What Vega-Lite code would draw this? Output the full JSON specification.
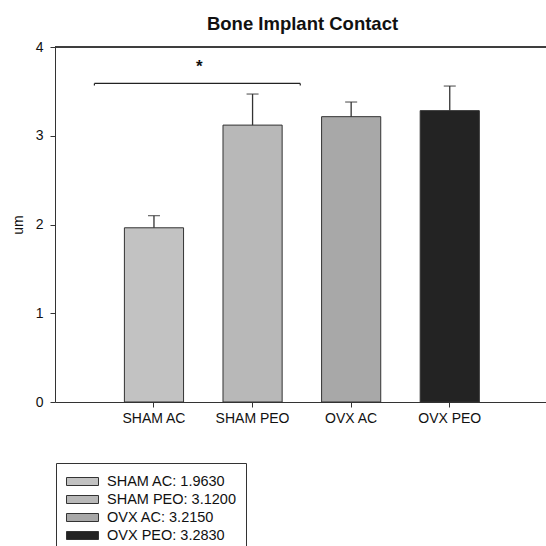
{
  "$schema": "https://vega.github.io/schema/vega-lite/v6.json",
  "width": 491,
  "height": 355,
  "autosize": {"type": "none"},
  "padding": {"left": 55, "top": 47, "right": 0, "bottom": 144},
  "background": "white",
  "config": {
    "font": "Liberation Sans",
    "view": {"stroke": null},
    "axis": {"grid": false, "domainColor": "#333", "tickColor": "#333", "labelColor": "#111", "titleColor": "#111", "labelFont": "Liberation Sans", "titleFont": "Liberation Sans"}
  },
  "title": {"text": "Bone Implant Contact", "fontSize": 18.5, "fontWeight": "bold", "font": "Liberation Sans", "color": "#111", "anchor": "middle", "baseline": "alphabetic", "offset": 18, "dx": 2, "dy": 26},
  "datasets": {
    "bars": [
      {"group": "SHAM AC", "legend": "SHAM AC: 1.9630", "mean": 1.963, "upper": 2.10},
      {"group": "SHAM PEO", "legend": "SHAM PEO: 3.1200", "mean": 3.12, "upper": 3.47},
      {"group": "OVX  AC", "legend": "OVX AC: 3.2150", "mean": 3.215, "upper": 3.38},
      {"group": "OVX  PEO", "legend": "OVX PEO: 3.2830", "mean": 3.283, "upper": 3.56}
    ],
    "bracket": [{"x1": 0.4, "x2": 2.49, "y": 3.59, "ye": 3.565, "label": "*", "sx": 1.465, "sy": 3.78}]
  },
  "layer": [
    {
      "data": {"name": "bars"},
      "layer": [
        {
          "mark": {"type": "bar", "stroke": "#333", "strokeWidth": 1},
          "encoding": {
            "x": {"field": "group", "type": "nominal", "sort": null,
                  "scale": {"domain": ["SHAM AC", "SHAM PEO", "OVX  AC", "OVX  PEO"], "paddingInner": 0.4, "paddingOuter": 0.69, "align": 0.51},
                  "axis": {"title": null, "labelAngle": 0, "labelFontSize": 14, "tickSize": 5, "labelPadding": 4, "domainWidth": 1}},
            "y": {"field": "mean", "type": "quantitative",
                  "scale": {"domain": [0, 4], "nice": false},
                  "axis": {"title": "um", "values": [0, 1, 2, 3, 4], "format": "d", "labelFontSize": 14, "titleFontSize": 14, "titleFontWeight": "normal", "tickSize": 5, "labelPadding": 7, "titlePadding": 10}},
            "fill": {"field": "legend", "type": "nominal", "sort": null,
                      "scale": {"domain": ["SHAM AC: 1.9630", "SHAM PEO: 3.1200", "OVX AC: 3.2150", "OVX PEO: 3.2830"], "range": ["#c2c2c2", "#b8b8b8", "#a8a8a8", "#232323"]},
                      "legend": {"title": null, "orient": "none", "legendX": 1, "legendY": 416, "strokeColor": "#333", "padding": 10,
                                 "symbolType": "M-1,-0.5H3V0.5H-1Z", "symbolSize": 256, "symbolStrokeColor": "#333", "symbolStrokeWidth": 1,
                                 "labelFontSize": 14.5, "labelFont": "Liberation Sans", "labelColor": "#111", "labelOffset": 24, "rowPadding": 3}}
          }
        },
        {
          "mark": {"type": "rule", "color": "#333", "strokeWidth": 1.3},
          "encoding": {
            "x": {"field": "group", "type": "nominal", "sort": null},
            "y": {"field": "mean", "type": "quantitative"},
            "y2": {"field": "upper"}
          }
        },
        {
          "mark": {"type": "tick", "orient": "horizontal", "size": 12, "thickness": 1.3, "color": "#333"},
          "encoding": {
            "x": {"field": "group", "type": "nominal", "sort": null},
            "y": {"field": "upper", "type": "quantitative"}
          }
        },
        {
          "mark": {"type": "rule", "color": "#333", "strokeWidth": 1},
          "encoding": {"y": {"datum": 4}}
        }
      ]
    },
    {
      "data": {"name": "bracket"},
      "layer": [
        {
          "mark": {"type": "rule", "color": "#222", "strokeWidth": 1.2},
          "encoding": {
            "x": {"field": "x1", "type": "quantitative", "scale": {"domain": [0, 4.985], "nice": false, "zero": false}, "axis": null},
            "x2": {"field": "x2"},
            "y": {"field": "y", "type": "quantitative"}
          }
        },
        {
          "mark": {"type": "rule", "color": "#222", "strokeWidth": 1.2},
          "encoding": {
            "x": {"field": "x1", "type": "quantitative"},
            "y": {"field": "y", "type": "quantitative"},
            "y2": {"field": "ye"}
          }
        },
        {
          "mark": {"type": "rule", "color": "#222", "strokeWidth": 1.2},
          "encoding": {
            "x": {"field": "x2", "type": "quantitative"},
            "y": {"field": "y", "type": "quantitative"},
            "y2": {"field": "ye"}
          }
        },
        {
          "mark": {"type": "text", "fontSize": 17, "fontWeight": "bold", "color": "#111", "baseline": "middle", "align": "center"},
          "encoding": {
            "x": {"field": "sx", "type": "quantitative"},
            "y": {"field": "sy", "type": "quantitative"},
            "text": {"field": "label"}
          }
        }
      ]
    }
  ],
  "resolve": {"scale": {"x": "independent"}}
}
